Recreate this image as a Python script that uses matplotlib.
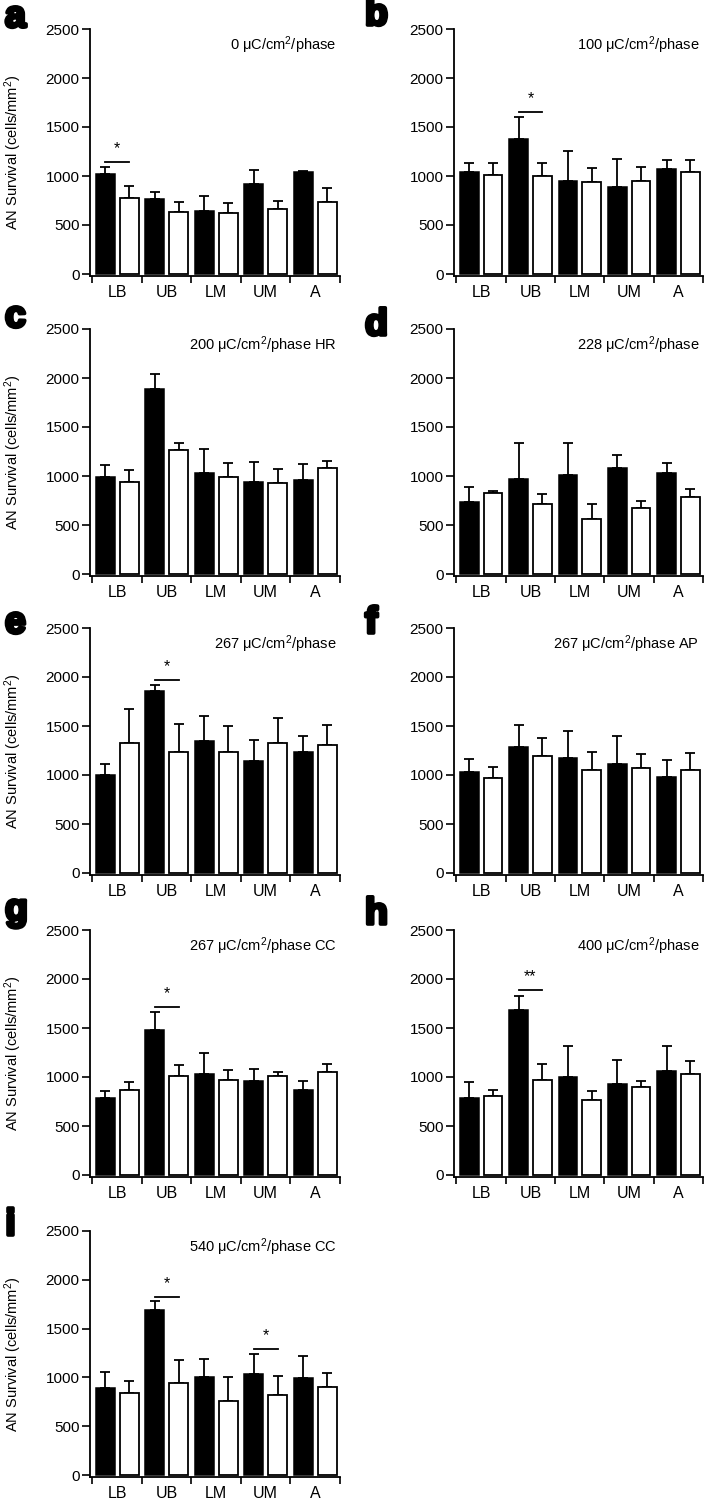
import numpy as np
import matplotlib
matplotlib.use('Agg')
import matplotlib.pyplot as plt
import matplotlib.patheffects as pe

plt.rcParams['font.family'] = ['Liberation Sans', 'DejaVu Sans']
plt.rcParams['mathtext.fontset'] = 'custom'
plt.rcParams['mathtext.rm'] = 'Liberation Sans'
plt.rcParams['mathtext.it'] = 'Liberation Sans:italic'

# 数据：各区域（LB, UB, LM, UM, A）的黑/白柱均值与误差上端
regions = ['LB', 'UB', 'LM', 'UM', 'A']
letters = ['a', 'b', 'c', 'd', 'e', 'f', 'g', 'h', 'i']
titles = ['0 μC/cm$^2$/phase', '100 μC/cm$^2$/phase', '200 μC/cm$^2$/phase HR',
          '228 μC/cm$^2$/phase', '267 μC/cm$^2$/phase', '267 μC/cm$^2$/phase AP',
          '267 μC/cm$^2$/phase CC', '400 μC/cm$^2$/phase', '540 μC/cm$^2$/phase CC']

black_mean = [
    [1018, 766, 643, 920, 1040],
    [1044, 1374, 952, 891, 1068],
    [986, 1890, 1030, 938, 962],
    [738, 966, 1013, 1081, 1034],
    [996, 1856, 1343, 1142, 1231],
    [1027, 1282, 1173, 1108, 983],
    [783, 1478, 1032, 957, 865],
    [783, 1685, 1000, 926, 1062],
    [892, 1686, 1005, 1032, 998],
]
black_top = [
    [1096, 834, 800, 1060, 1050],
    [1136, 1605, 1258, 1170, 1163],
    [1115, 2040, 1275, 1146, 1125],
    [891, 1340, 1340, 1214, 1129],
    [1115, 1918, 1601, 1353, 1397],
    [1166, 1510, 1445, 1397, 1149],
    [858, 1662, 1250, 1083, 960],
    [953, 1831, 1313, 1174, 1320],
    [1055, 1785, 1185, 1239, 1219],
]
white_mean = [
    [780, 630, 625, 665, 730],
    [1013, 1000, 935, 952, 1037],
    [935, 1261, 989, 932, 1081],
    [823, 717, 558, 673, 782],
    [1326, 1234, 1238, 1326, 1302],
    [972, 1190, 1051, 1068, 1054],
    [872, 1008, 967, 1015, 1056],
    [803, 970, 766, 899, 1031],
    [838, 943, 756, 817, 902],
]
white_top = [
    [899, 730, 720, 750, 880],
    [1129, 1129, 1078, 1088, 1163],
    [1064, 1336, 1129, 1068, 1156],
    [850, 816, 714, 748, 864],
    [1676, 1516, 1500, 1581, 1506],
    [1085, 1377, 1238, 1210, 1227],
    [947, 1127, 1076, 1052, 1134],
    [871, 1130, 858, 957, 1164],
    [964, 1175, 1001, 1015, 1045],
]

# 显著性标记：(面板, 区域, 标记, 横线高度)
sig_panel = [0, 1, 4, 6, 7, 8, 8]
sig_group = [0, 1, 1, 1, 1, 1, 3]
sig_text = ['*', '*', '*', '*', '**', '*', '*']
sig_y = [1145, 1652, 1972, 1716, 1888, 1825, 1287]

W, H = 707, 1500
fig = plt.figure(figsize=(W / 100, H / 100), dpi=100)

col_x = [(90, 340), (454, 703)]
row_y = [(29, 274), (329, 574), (628, 873), (930, 1175), (1231, 1475)]
letter_dy = [-2, -4, -2, 6, 5, 5, -10, -6, 4]

axes = []
for k in range(9):
    r, c = divmod(k, 2)
    x0, x1 = col_x[c]
    yt, yb = row_y[r]
    yb = yb + 2.45
    ax = fig.add_axes([x0 / W, 1 - yb / H, (x1 - x0) / W, (yb - yt) / H])
    axes.append(ax)

    xs = np.arange(5)
    bm = np.array(black_mean[k])
    wm = np.array(white_mean[k])
    be = np.array(black_top[k]) - bm
    we = np.array(white_top[k]) - wm
    ax.bar(xs + 0.26, bm, width=0.38, color='black', edgecolor='black', linewidth=1.1, zorder=2)
    ax.bar(xs + 0.74, wm, width=0.38, color='white', edgecolor='black', linewidth=1.3, zorder=2)
    ax.errorbar(xs + 0.26, bm, yerr=[np.zeros(5), be], fmt='none', ecolor='black',
                elinewidth=1.3, capsize=3.5, capthick=1.3, zorder=1)
    ax.errorbar(xs + 0.74, wm, yerr=[np.zeros(5), we], fmt='none', ecolor='black',
                elinewidth=1.3, capsize=3.5, capthick=1.3, zorder=1)

    ax.set_xlim(-0.05, 5)
    ax.set_ylim(-25, 2500)
    ax.set_yticks(np.arange(0, 2501, 500))
    ax.set_xticks(np.arange(6))
    ax.set_xticklabels([])
    ax.set_xticks(xs + 0.5, minor=True)
    ax.set_xticklabels(regions, minor=True)
    ax.tick_params(axis='x', which='major', direction='out', length=5, width=1.2)
    ax.tick_params(axis='x', which='minor', length=0, pad=6, labelsize=11.5)
    ax.tick_params(axis='y', direction='out', length=5.5, width=1.2, pad=2, labelsize=11)
    for s in ['top', 'right']:
        ax.spines[s].set_visible(False)
    for s in ['left', 'bottom']:
        ax.spines[s].set_linewidth(1.3)

    ax.text(0.985, 0.935, titles[k], transform=ax.transAxes, ha='right', va='center', fontsize=10.5)

    if c == 0:
        ax.set_ylabel('AN Survival (cells/mm$^2$)', fontsize=10.5)
        ax.yaxis.set_label_coords(-0.265, 0.5)

    lx = 5 if c == 0 else 365
    t = fig.text(lx / W, 1 - (row_y[r][0] + letter_dy[k]) / H, letters[k], fontsize=27,
                 fontweight='bold', ha='left', va='baseline')
    t.set_path_effects([pe.withStroke(linewidth=2.6, foreground='black')])

for p, g, s, y in zip(sig_panel, sig_group, sig_text, sig_y):
    ax = axes[p]
    ax.plot([g + 0.26, g + 0.74], [y, y], color='black', lw=1.3)
    ax.text(g + 0.5, y + 60, s, ha='center', va='bottom', fontsize=11.5)

fig.savefig('out.png', dpi=100)
